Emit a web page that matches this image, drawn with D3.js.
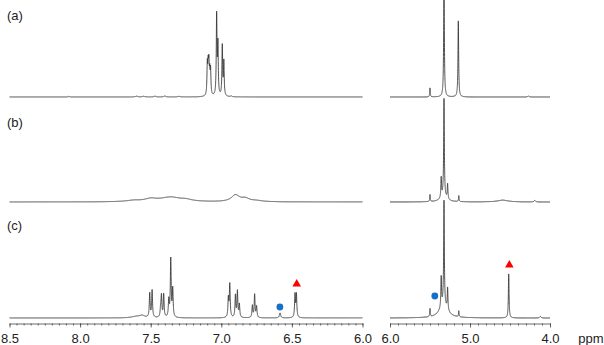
<!DOCTYPE html>
<html>
<head>
<meta charset="utf-8">
<script src="https://cdn.jsdelivr.net/npm/d3@7"></script>
<style>
  body { margin: 0; background: #fff; }
  svg { display: block; font-family: "Liberation Sans", Arial, sans-serif; }
</style>
</head>
<body>
<script>
// ppm ranges of the two panels (broken axis)
var leftRange = [8.5, 6.0];
var rightRange = [6.0, 4.0];
var leftTicks = [8.5, 8.0, 7.5, 7.0, 6.5, 6.0];
var rightTicks = [6.0, 5.0, 4.0];
var traceLabels = ['(a)', '(b)', '(c)'];

// peak lists: [ppm, intensity, half width (ppm)]
var peaksA = [
  [8.08, 0.8, 0.004], [7.60, 0.8, 0.01], [7.55, 0.7, 0.01], [7.47, 0.8, 0.008],
  [7.40, 1.0, 0.008], [7.30, 0.6, 0.01],
  [7.099, 30, 0.003], [7.093, 26, 0.003], [7.088, 28, 0.003], [7.082, 20, 0.003], [7.076, 24, 0.003],
  [7.033, 80, 0.003], [7.024, 50, 0.003], [6.993, 50, 0.003], [6.982, 34, 0.003],
  [6.93, 0.8, 0.006],
  [5.50, 9, 0.004], [5.325, 120, 0.005], [5.146, 76, 0.005], [4.27, 1, 0.01]
];
var peaksB = [
  [7.62, 1.2, 0.06], [7.50, 2.5, 0.05], [7.36, 4.5, 0.09], [7.25, 1.5, 0.05],
  [6.90, 6.5, 0.035], [6.83, 3, 0.035], [6.75, 1, 0.05],
  [5.50, 7, 0.004], [5.36, 20, 0.005], [5.325, 98, 0.005], [5.28, 15, 0.005],
  [5.33, 5, 0.05], [5.14, 6, 0.004], [4.59, 1.8, 0.08], [4.19, 1.5, 0.01]
];
var peaksC = [
  [7.60, 1.5, 0.04], [7.56, 2, 0.02],
  [7.507, 24, 0.0035], [7.490, 27, 0.0035],
  [7.430, 8, 0.0035], [7.424, 21, 0.0035], [7.408, 23, 0.0035],
  [7.372, 17, 0.0035], [7.358, 58, 0.0035], [7.344, 28, 0.0035],
  [6.950, 19, 0.0035], [6.940, 33, 0.0035],
  [6.900, 22, 0.0035], [6.886, 26, 0.0035], [6.872, 13, 0.0035],
  [6.780, 12, 0.0035], [6.764, 23, 0.0035], [6.750, 11, 0.0035],
  [6.584, 5, 0.005],
  [6.478, 23, 0.0035], [6.468, 23, 0.0035],
  [5.50, 8, 0.004], [5.36, 30, 0.005], [5.325, 104, 0.005], [5.28, 22, 0.005],
  [5.33, 13, 0.06], [5.14, 6, 0.004], [4.516, 44, 0.005], [4.12, 1.5, 0.01]
];
var traces = [peaksA, peaksB, peaksC];

// annotation markers on trace (c): [ppm, intensity]
var circleMarks = [[6.585, 11], [5.44, 22]];
var triangleMarks = [[6.466, 34], [4.508, 53]];

var width = 604, height = 345;
var baselines = [97, 202, 318];
var axisY = 323.5;

var svg = d3.select('body').append('svg')
  .attr('width', width)
  .attr('height', height);

var xLeft = d3.scaleLinear().domain(leftRange).range([9.5, 362.5]);
var xRight = d3.scaleLinear().domain(rightRange).range([390, 550]);

function spectrum(peaks, range) {
  var pts = d3.range(range[0], range[1] - 0.0001, -0.0005);
  return pts.map(function(p) {
    var s = 0;
    peaks.forEach(function(k) {
      var u = (p - k[0]) / k[2];
      s += k[1] / (1 + u * u);
    });
    return [p, s];
  });
}

traces.forEach(function(peaks, i) {
  var y = d3.scaleLinear().domain([0, 100]).range([baselines[i], baselines[i] - 100]);
  [[xLeft, leftRange], [xRight, rightRange]].forEach(function(panel) {
    var x = panel[0];
    var line = d3.line()
      .x(function(d) { return x(d[0]); })
      .y(function(d) { return y(d[1]); });
    svg.append('path')
      .datum(spectrum(peaks, panel[1]))
      .attr('d', line)
      .attr('fill', 'none')
      .attr('stroke', '#333')
      .attr('stroke-width', 0.85);
  });

  svg.append('text')
    .attr('x', 7)
    .attr('y', [20, 127, 230][i])
    .attr('font-size', 13)
    .attr('fill', '#222')
    .text(traceLabels[i]);
});

// markers on trace (c)
var yC = d3.scaleLinear().domain([0, 100]).range([baselines[2], baselines[2] - 100]);
function xOf(p) { return p >= 6.0 ? xLeft(p) : xRight(p); }

svg.selectAll('circle.mark')
  .data(circleMarks)
  .enter().append('circle')
    .attr('class', 'mark')
    .attr('cx', function(d) { return xOf(d[0]); })
    .attr('cy', function(d) { return yC(d[1]); })
    .attr('r', 3.4)
    .attr('fill', '#1570c8');

svg.selectAll('path.tri')
  .data(triangleMarks)
  .enter().append('path')
    .attr('class', 'tri')
    .attr('d', d3.symbol().type(d3.symbolTriangle).size(32))
    .attr('transform', function(d) { return 'translate(' + xOf(d[0]) + ',' + yC(d[1]) + ')'; })
    .attr('fill', '#ff0000');

// axes
function drawAxis(x, major, minorStep) {
  var g = svg.append('g').attr('transform', 'translate(0,' + axisY + ')');
  var d = x.domain();
  var minor = d3.range(Math.round((d[0] - d[1]) / minorStep) + 1).map(function(k) {
    return +(d[1] + k * minorStep).toFixed(3);
  });
  g.append('g')
    .call(d3.axisBottom(x).tickValues(minor).tickSize(2).tickSizeOuter(0).tickFormat(''))
    .call(function(s) { s.select('.domain').remove(); });
  g.append('g')
    .call(d3.axisBottom(x).tickValues(major).tickSize(4).tickSizeOuter(0)
      .tickPadding(6).tickFormat(d3.format('.1f')));
  g.selectAll('path, line').attr('stroke', '#444').attr('stroke-width', 0.8);
  g.selectAll('text').attr('font-size', 13).attr('fill', '#222')
    .attr('font-family', '"Liberation Sans", Arial, sans-serif');
}
drawAxis(xLeft, leftTicks, 0.05);
drawAxis(xRight, rightTicks, 0.1);

svg.append('text')
  .attr('x', 591)
  .attr('y', axisY + 19.2)
  .attr('text-anchor', 'middle')
  .attr('font-size', 13)
  .attr('fill', '#222')
  .text('ppm');
</script>
</body>
</html>
